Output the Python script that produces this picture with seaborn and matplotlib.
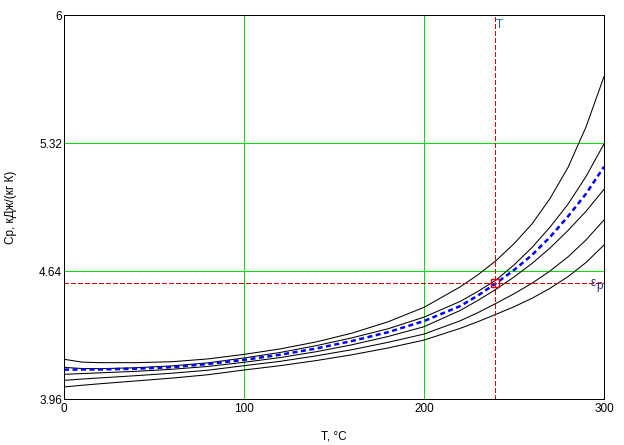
import matplotlib
matplotlib.use("Agg")
import matplotlib.pyplot as plt
import seaborn as sns

# temperature grid, degC
T = [0, 10, 20, 40, 60, 80, 100, 120, 140, 160, 180, 200, 220, 230, 240, 250,
     260, 270, 280, 290, 300]

# black family of curves, top to bottom
cp_1 = [4.171, 4.156, 4.153, 4.153, 4.158, 4.173, 4.197, 4.226, 4.263, 4.310, 4.370,
        4.447, 4.555, 4.620, 4.695, 4.785, 4.890, 5.025, 5.190, 5.405, 5.673]
cp_2 = [4.128, 4.122, 4.121, 4.126, 4.136, 4.152, 4.178, 4.207, 4.243, 4.285, 4.333,
        4.395, 4.478, 4.532, 4.592, 4.672, 4.765, 4.873, 4.995, 5.142, 5.315]
cp_3 = [4.091, 4.095, 4.099, 4.107, 4.118, 4.133, 4.155, 4.180, 4.211, 4.248, 4.292,
        4.344, 4.430, 4.484, 4.543, 4.608, 4.680, 4.762, 4.855, 4.957, 5.074]
cp_4 = [4.059, 4.066, 4.072, 4.084, 4.097, 4.113, 4.137, 4.160, 4.189, 4.222, 4.261,
        4.305, 4.375, 4.419, 4.468, 4.519, 4.575, 4.640, 4.715, 4.805, 4.911]
cp_5 = [4.024, 4.033, 4.041, 4.056, 4.071, 4.089, 4.114, 4.137, 4.164, 4.195, 4.231,
        4.273, 4.335, 4.371, 4.410, 4.450, 4.495, 4.548, 4.610, 4.685, 4.778]

# blue dashed (calculated) curve
cp_calc = [4.116, 4.117, 4.117, 4.121, 4.129, 4.146, 4.168, 4.195, 4.228, 4.268, 4.315,
           4.374, 4.453, 4.510, 4.575, 4.645, 4.725, 4.820, 4.930, 5.050, 5.194]

# cursor point
T_cur = 239.6
cp_cur = 4.575

x_ticks = [0, 100, 200, 300]
y_ticks = [3.96, 4.64, 5.32, 6]
y_tick_labels = ["3.96", "4.64", "5.32", "6"]

sns.set_theme(style="white")
plt.rcParams['font.family'] = ['Liberation Sans', 'DejaVu Sans']
# crisp straight lines like the original GDI chart
plt.rcParams['lines.antialiased'] = False
plt.rcParams['patch.antialiased'] = False

THIN = 0.6

fig = plt.figure(figsize=(6.24, 4.45), dpi=100)
ax = fig.add_axes([64 / 624, 46 / 445, 540 / 624, 384 / 445])

for c in [cp_1, cp_2, cp_3, cp_4, cp_5]:
    sns.lineplot(x=T, y=c, color='black', linewidth=0.75, antialiased=True, ax=ax)

sns.lineplot(x=T, y=cp_calc, color='#0000ff', linewidth=1.8, antialiased=True,
             linestyle=(0, (2.0, 1.4)), ax=ax)

# cursor crosshair
ax.axvline(T_cur, color='#e00000', linewidth=THIN, linestyle=(0, (5, 3)))
ax.axhline(cp_cur, color='#e00000', linewidth=THIN, linestyle=(0, (5, 3)))
ax.plot([T_cur], [cp_cur], marker='s', markersize=5.5, markerfacecolor='none',
        markeredgecolor='#e00000', markeredgewidth=1.0)

ax.text(T_cur + 0.3, 5.979, "T", color='#1f5fd0', fontsize=8.5, ha='left', va='top')
ax.text(292.8, 4.560, "ε", color='#302878', fontsize=8.5, ha='left', va='baseline')
ax.text(295.6, 4.547, "p", color='#302878', fontsize=8.5, ha='left', va='baseline')

ax.set_xlim(0, 300)
ax.set_ylim(3.96, 6)
ax.set_xticks(x_ticks)
ax.set_yticks(y_ticks)
ax.set_yticklabels(y_tick_labels)
ax.grid(True, color='#00e000', linewidth=THIN, antialiased=False)
ax.set_axisbelow(True)

ax.tick_params(axis='both', length=0, labelsize=8.5, colors='black')
ax.tick_params(axis='y', pad=1.5)
ax.tick_params(axis='x', pad=3)
for s in ax.spines.values():
    s.set_color('black')
    s.set_linewidth(0.7)

ax.set_xlabel("T, °C", fontsize=8.5, color='black')
ax.set_ylabel("Cp, кДж/(кг К)", fontsize=8.5, color='black')
ax.xaxis.set_label_coords(0.5, -0.083)
ax.yaxis.set_label_coords(-0.087, 0.5)

fig.savefig("out.png", dpi=100, facecolor='white')
